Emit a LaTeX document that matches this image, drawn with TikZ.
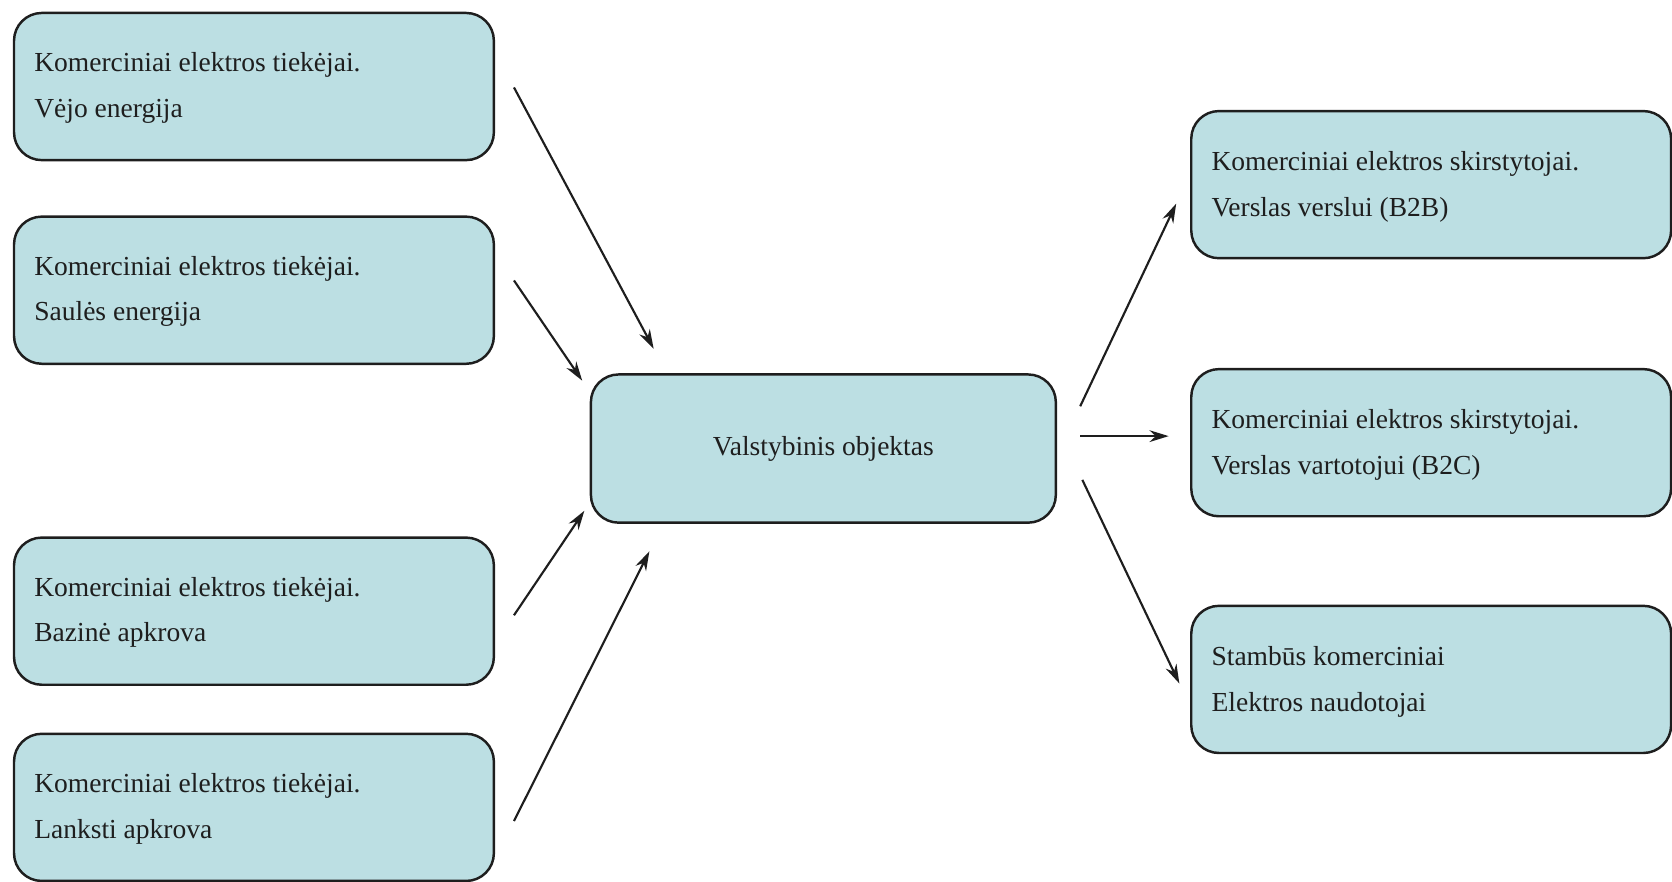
\documentclass[tikz,border=0pt]{standalone}
\usepackage{fontspec}
\setmainfont{Liberation Serif}
\usetikzlibrary{arrows.meta,calc}
\definecolor{boxfill}{RGB}{188,223,227}
\definecolor{ink}{RGB}{30,30,30}
\begin{document}
\begin{tikzpicture}[x=1pt,y=-1pt,
  box/.style={draw=ink, line width=2.3pt, fill=boxfill, rounded corners=26pt,
    minimum width=450pt, minimum height=138pt, inner sep=0pt, anchor=north west},
  lbl/.style={font=\fontsize{25.8}{30}\selectfont, anchor=base west, inner sep=0pt, text=ink},
  arr/.style={draw=ink, line width=2pt, -{Stealth[length=18pt,width=11pt]}}]
\useasboundingbox (0,0) rectangle (1568,827);

% left boxes
\node[box] (l1) at (12,11) {};
\node[box] (l2) at (12,202) {};
\node[box] (l3) at (12,503) {};
\node[box] (l4) at (12,687) {};
% centre
\node[box, minimum width=436pt, minimum height=139pt, font=\fontsize{25.8}{30}\selectfont, text=ink] (c) at (553,350) {Valstybinis objektas};
% right boxes
\node[box] (r1) at (1116,103) {};
\node[box] (r2) at (1116,345) {};
\node[box] (r3) at (1116,567) {};

% texts
\node[lbl] (l1a) at ($(l1.north west)+(20,56)$) {Komerciniai elektros tiekėjai.};
\node[lbl] (l1b) at ($(l1.north west)+(20,99)$) {Vėjo energija};
\node[lbl] (l2a) at ($(l2.north west)+(20,56)$) {Komerciniai elektros tiekėjai.};
\node[lbl] (l2b) at ($(l2.north west)+(20,99)$) {Saulės energija};
\node[lbl] (l3a) at ($(l3.north west)+(20,56)$) {Komerciniai elektros tiekėjai.};
\node[lbl] (l3b) at ($(l3.north west)+(20,99)$) {Bazinė apkrova};
\node[lbl] (l4a) at ($(l4.north west)+(20,56)$) {Komerciniai elektros tiekėjai.};
\node[lbl] (l4b) at ($(l4.north west)+(20,99)$) {Lanksti apkrova};
\node[lbl] (r1a) at ($(r1.north west)+(20,57)$) {Komerciniai elektros skirstytojai.};
\node[lbl] (r1b) at ($(r1.north west)+(20,100)$) {Verslas verslui (B2B)};
\node[lbl] (r2a) at ($(r2.north west)+(20,57)$) {Komerciniai elektros skirstytojai.};
\node[lbl] (r2b) at ($(r2.north west)+(20,100)$) {Verslas vartotojui (B2C)};
\node[lbl] (r3a) at ($(r3.north west)+(20,57)$) {Stambūs komerciniai};
\node[lbl] (r3b) at ($(r3.north west)+(20,100)$) {Elektros naudotojai};

% arrow end points
\coordinate (a1s) at (482,82);   \coordinate (a1e) at (613,327);
\coordinate (a2s) at (482,263);  \coordinate (a2e) at (546,357);
\coordinate (a3s) at (482,577);  \coordinate (a3e) at (548,479);
\coordinate (a4s) at (482,770);  \coordinate (a4e) at (609,517);
\coordinate (o1s) at (1013,381); \coordinate (o1e) at (1103,191);
\coordinate (o2s) at (1013,409); \coordinate (o2e) at (1096,409);
\coordinate (o3s) at (1015,450); \coordinate (o3e) at (1106,641);

\draw[arr] (a1s) -- (a1e);
\draw[arr] (a2s) -- (a2e);
\draw[arr] (a3s) -- (a3e);
\draw[arr] (a4s) -- (a4e);
\draw[arr] (o1s) -- (o1e);
\draw[arr] (o2s) -- (o2e);
\draw[arr] (o3s) -- (o3e);
\end{tikzpicture}
\end{document}
